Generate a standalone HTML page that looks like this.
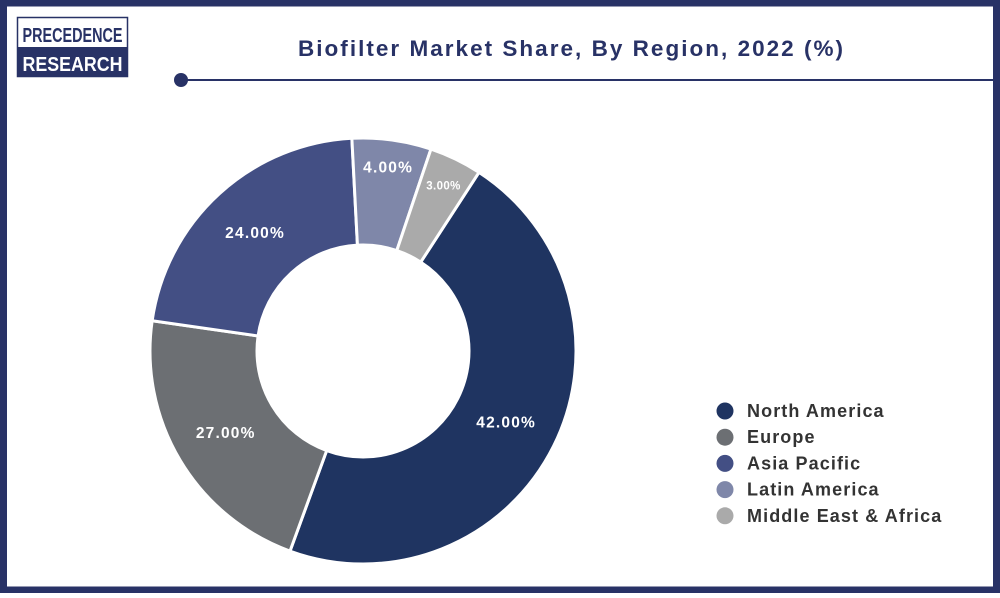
<!DOCTYPE html>
<html><head><meta charset="utf-8"><style>
body{margin:0;width:1000px;height:593px;overflow:hidden;background:#fff;font-family:"Liberation Sans",sans-serif}
</style></head><body>
<svg width="1000" height="593" viewBox="0 0 1000 593">
<rect x="3.5" y="3" width="993" height="587" fill="#fff" stroke="#283266" stroke-width="7"/>
<g>
<rect x="17.5" y="17.5" width="110" height="59" fill="#fff" stroke="#283266" stroke-width="1.5"/>
<rect x="17.5" y="47" width="110" height="30" fill="#283266"/>
<text x="72.5" y="42" text-anchor="middle" font-size="20" font-weight="bold" fill="#283266" textLength="100" lengthAdjust="spacingAndGlyphs">PRECEDENCE</text>
<text x="72.5" y="71" text-anchor="middle" font-size="20" font-weight="bold" fill="#fff" textLength="100" lengthAdjust="spacingAndGlyphs">RESEARCH</text>
</g>
<text x="298" y="56" font-size="22.5" font-weight="bold" fill="#283266" textLength="545" lengthAdjust="spacing">Biofilter Market Share, By Region, 2022 (%)</text>
<line x1="181" y1="80" x2="996" y2="80" stroke="#283266" stroke-width="2"/>
<circle cx="181" cy="80" r="7" fill="#283266"/>
<g id="donut"></g>
<g id="legend"></g>
</svg>
<script>
const categories=["North America","Europe","Asia Pacific","Latin America","Middle East & Africa"];
const values=[46.4,21.7,21.9,6.0,4.0];
const printed=["42.00%","27.00%","24.00%","4.00%","3.00%"];
const colors=["#1f3461","#6c6f73","#434f84","#7f87a9","#aaaaaa"];
const cx=363,cy=351,R=213,r=106,start=33;
const NS="http://www.w3.org/2000/svg";
const donut=document.getElementById('donut');
const total=values.reduce((a,b)=>a+b,0);
function pt(rad,deg){const a=deg*Math.PI/180;return [cx+rad*Math.sin(a),cy-rad*Math.cos(a)];}
let ang=start;
values.forEach((v,i)=>{
  const sweep=v/total*360,a0=ang,a1=ang+sweep;ang=a1;
  const large=sweep>180?1:0;
  const [x0,y0]=pt(R,a0),[x1,y1]=pt(R,a1),[x2,y2]=pt(r,a1),[x3,y3]=pt(r,a0);
  const p=document.createElementNS(NS,'path');
  p.setAttribute('d',`M${x0},${y0}A${R},${R} 0 ${large} 1 ${x1},${y1}L${x2},${y2}A${r},${r} 0 ${large} 0 ${x3},${y3}Z`);
  p.setAttribute('fill',colors[i]);p.setAttribute('stroke','#fff');p.setAttribute('stroke-width','3');
  
  
  donut.appendChild(p);
  const lr=v<10?185:160;const [lx,ly]=pt(lr,(a0+a1)/2);
  const t=document.createElementNS(NS,'text');
  t.setAttribute('x',lx);t.setAttribute('y',ly+5);t.setAttribute('text-anchor','middle');
  t.setAttribute('font-size',v<5?'11.5':'15.5');t.setAttribute('font-weight','bold');t.setAttribute('fill','#fff');
  t.setAttribute('letter-spacing',v<5?'0.4':'1.2');
  t.textContent=printed[i];
  
  
  donut.appendChild(t);
});
const lg=document.getElementById('legend');
categories.forEach((c,i)=>{
  const y=411+i*26.2;
  const g=document.createElementNS(NS,'g');
  
  
  const d=document.createElementNS(NS,'circle');
  d.setAttribute('cx',725);d.setAttribute('cy',y);d.setAttribute('r',8.5);d.setAttribute('fill',colors[i]);
  const t=document.createElementNS(NS,'text');
  t.setAttribute('x',747);t.setAttribute('y',y+6);t.setAttribute('font-size','18');t.setAttribute('font-weight','bold');t.setAttribute('fill','#333');
  t.setAttribute('letter-spacing','1.1');
  t.textContent=c;
  g.appendChild(d);g.appendChild(t);lg.appendChild(g);
});
</script>
</body></html>
